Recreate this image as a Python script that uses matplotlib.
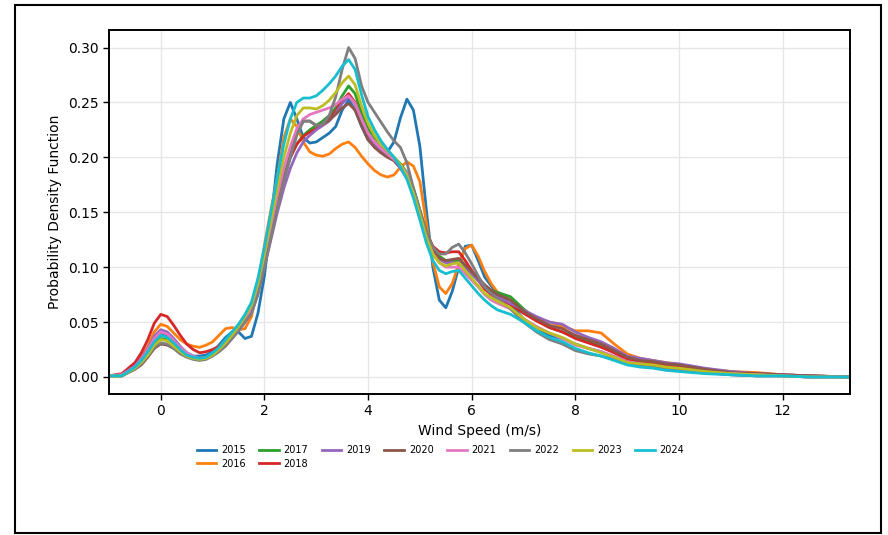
import matplotlib
matplotlib.use("Agg")
import matplotlib.pyplot as plt
from matplotlib.patches import Rectangle

wind_speed = [-1.0, -0.75,
              -0.5, -0.375, -0.25, -0.125, 0.0, 0.125, 0.25, 0.375,
              0.5, 0.625, 0.75, 0.875, 1.0, 1.125, 1.25, 1.375,
              1.5, 1.625, 1.75, 1.875, 2.0, 2.125, 2.25, 2.375,
              2.5, 2.625, 2.75, 2.875, 3.0, 3.125, 3.25, 3.375,
              3.5, 3.625, 3.75, 3.875, 4.0, 4.125, 4.25, 4.375,
              4.5, 4.625, 4.75, 4.875, 5.0, 5.125, 5.25, 5.375,
              5.5, 5.625, 5.75, 5.875, 6.0, 6.125, 6.25, 6.375,
              6.5, 6.75, 7.0, 7.25, 7.5, 7.75, 8.0, 8.25, 8.5, 8.75,
              9.0, 9.25, 9.5, 9.75, 10.0,
              10.5, 11.0, 11.5, 12.0, 12.5, 13.3]

years = ["2015", "2016", "2017", "2018", "2019",
         "2020", "2021", "2022", "2023", "2024"]

pdf_2015 = [0.001, 0.002,
            0.009, 0.016, 0.024, 0.034, 0.040, 0.038, 0.033, 0.027,
            0.022, 0.019, 0.019, 0.020, 0.023, 0.029, 0.036, 0.041,
            0.041, 0.035, 0.037, 0.058, 0.092, 0.142, 0.195, 0.235,
            0.250, 0.235, 0.218, 0.213, 0.214, 0.218, 0.222, 0.228,
            0.243, 0.252, 0.243, 0.228, 0.216, 0.210, 0.206, 0.205,
            0.214, 0.236, 0.253, 0.243, 0.210, 0.152, 0.100, 0.070,
            0.063, 0.078, 0.100, 0.119, 0.120, 0.106, 0.091, 0.083,
            0.076, 0.066, 0.053, 0.045, 0.038, 0.035, 0.030, 0.026, 0.023, 0.018,
            0.013, 0.011, 0.010, 0.008, 0.006,
            0.004, 0.002, 0.001, 0.001, 0.000, 0.000]
pdf_2016 = [0.001, 0.002,
            0.010, 0.018, 0.028, 0.041, 0.048, 0.046, 0.040, 0.034,
            0.030, 0.028, 0.027, 0.029, 0.032, 0.038, 0.044, 0.045,
            0.043, 0.044, 0.055, 0.085, 0.120, 0.152, 0.182, 0.218,
            0.235, 0.228, 0.214, 0.205, 0.202, 0.201, 0.203, 0.208,
            0.212, 0.214, 0.209, 0.201, 0.194, 0.188, 0.184, 0.182,
            0.184, 0.191, 0.196, 0.192, 0.178, 0.140, 0.105, 0.082,
            0.076, 0.085, 0.103, 0.117, 0.120, 0.110, 0.096, 0.085,
            0.077, 0.070, 0.060, 0.054, 0.050, 0.046, 0.042, 0.042, 0.040, 0.030,
            0.021, 0.017, 0.015, 0.013, 0.011,
            0.007, 0.005, 0.004, 0.002, 0.001, 0.000]
pdf_2017 = [0.001, 0.001,
            0.008, 0.013, 0.021, 0.030, 0.035, 0.034, 0.029, 0.024,
            0.020, 0.018, 0.017, 0.018, 0.021, 0.025, 0.030, 0.037,
            0.045, 0.053, 0.063, 0.082, 0.108, 0.135, 0.160, 0.182,
            0.200, 0.212, 0.220, 0.225, 0.229, 0.233, 0.238, 0.245,
            0.256, 0.265, 0.258, 0.240, 0.226, 0.218, 0.212, 0.206,
            0.200, 0.194, 0.186, 0.172, 0.152, 0.132, 0.118, 0.110,
            0.106, 0.106, 0.106, 0.100, 0.094, 0.088, 0.082, 0.079,
            0.077, 0.073, 0.062, 0.052, 0.045, 0.041, 0.036, 0.032, 0.029, 0.024,
            0.018, 0.015, 0.013, 0.011, 0.009,
            0.006, 0.004, 0.002, 0.001, 0.001, 0.000]
pdf_2018 = [0.001, 0.003,
            0.013, 0.022, 0.034, 0.049, 0.057, 0.055, 0.047, 0.038,
            0.030, 0.025, 0.022, 0.023, 0.025, 0.028, 0.033, 0.039,
            0.046, 0.053, 0.062, 0.082, 0.108, 0.135, 0.160, 0.182,
            0.200, 0.212, 0.219, 0.223, 0.226, 0.230, 0.235, 0.242,
            0.252, 0.258, 0.250, 0.234, 0.221, 0.214, 0.208, 0.203,
            0.198, 0.191, 0.182, 0.168, 0.150, 0.132, 0.119, 0.114,
            0.113, 0.114, 0.114, 0.106, 0.097, 0.088, 0.080, 0.075,
            0.071, 0.066, 0.058, 0.051, 0.045, 0.041, 0.035, 0.031, 0.027, 0.022,
            0.016, 0.014, 0.012, 0.010, 0.009,
            0.006, 0.004, 0.003, 0.002, 0.001, 0.000]
pdf_2019 = [0.001, 0.002,
            0.010, 0.017, 0.026, 0.037, 0.043, 0.041, 0.035, 0.028,
            0.022, 0.018, 0.016, 0.017, 0.020, 0.024, 0.029, 0.035,
            0.042, 0.050, 0.058, 0.076, 0.100, 0.125, 0.150, 0.172,
            0.190, 0.204, 0.214, 0.220, 0.225, 0.229, 0.233, 0.240,
            0.249, 0.255, 0.248, 0.232, 0.219, 0.211, 0.205, 0.201,
            0.197, 0.190, 0.181, 0.167, 0.150, 0.130, 0.115, 0.107,
            0.104, 0.104, 0.104, 0.099, 0.094, 0.088, 0.082, 0.077,
            0.073, 0.067, 0.061, 0.055, 0.050, 0.048, 0.041, 0.036, 0.032, 0.026,
            0.019, 0.017, 0.015, 0.013, 0.012,
            0.008, 0.005, 0.003, 0.002, 0.001, 0.000]
pdf_2020 = [0.001, 0.001,
            0.007, 0.011, 0.018, 0.026, 0.030, 0.029, 0.026, 0.022,
            0.019, 0.017, 0.016, 0.017, 0.020, 0.024, 0.029, 0.036,
            0.043, 0.051, 0.060, 0.078, 0.102, 0.128, 0.155, 0.180,
            0.203, 0.222, 0.233, 0.233, 0.229, 0.230, 0.234, 0.239,
            0.245, 0.249, 0.243, 0.229, 0.216, 0.209, 0.204, 0.200,
            0.197, 0.191, 0.183, 0.169, 0.150, 0.130, 0.116, 0.108,
            0.106, 0.107, 0.108, 0.102, 0.096, 0.090, 0.084, 0.079,
            0.075, 0.070, 0.060, 0.053, 0.047, 0.044, 0.038, 0.034, 0.030, 0.024,
            0.018, 0.015, 0.014, 0.012, 0.011,
            0.007, 0.004, 0.003, 0.002, 0.001, 0.000]
pdf_2021 = [0.001, 0.002,
            0.009, 0.016, 0.025, 0.035, 0.041, 0.039, 0.033, 0.027,
            0.022, 0.019, 0.017, 0.018, 0.021, 0.025, 0.030, 0.037,
            0.044, 0.052, 0.062, 0.082, 0.108, 0.137, 0.165, 0.190,
            0.210, 0.226, 0.235, 0.239, 0.241, 0.243, 0.245, 0.248,
            0.253, 0.256, 0.249, 0.235, 0.222, 0.214, 0.208, 0.203,
            0.198, 0.193, 0.185, 0.168, 0.148, 0.127, 0.112, 0.104,
            0.100, 0.100, 0.100, 0.094, 0.088, 0.082, 0.075, 0.070,
            0.067, 0.062, 0.053, 0.046, 0.040, 0.035, 0.029, 0.026, 0.023, 0.019,
            0.014, 0.012, 0.010, 0.008, 0.007,
            0.004, 0.003, 0.002, 0.001, 0.000, 0.000]
pdf_2022 = [0.001, 0.001,
            0.007, 0.012, 0.019, 0.027, 0.031, 0.030, 0.026, 0.021,
            0.018, 0.016, 0.015, 0.016, 0.019, 0.023, 0.028, 0.035,
            0.042, 0.050, 0.058, 0.075, 0.100, 0.127, 0.153, 0.178,
            0.200, 0.220, 0.233, 0.233, 0.229, 0.230, 0.238, 0.255,
            0.280, 0.300, 0.290, 0.265, 0.250, 0.241, 0.232, 0.223,
            0.215, 0.209, 0.195, 0.172, 0.152, 0.132, 0.118, 0.112,
            0.112, 0.118, 0.121, 0.113, 0.103, 0.092, 0.082, 0.076,
            0.071, 0.062, 0.050, 0.041, 0.034, 0.030, 0.024, 0.021, 0.019, 0.016,
            0.012, 0.010, 0.009, 0.007, 0.006,
            0.004, 0.002, 0.001, 0.001, 0.000, 0.000]
pdf_2023 = [0.001, 0.001,
            0.008, 0.013, 0.020, 0.029, 0.034, 0.033, 0.028, 0.023,
            0.019, 0.017, 0.016, 0.017, 0.020, 0.025, 0.031, 0.038,
            0.046, 0.055, 0.065, 0.085, 0.112, 0.142, 0.172, 0.200,
            0.222, 0.238, 0.245, 0.245, 0.244, 0.247, 0.252, 0.259,
            0.268, 0.274, 0.266, 0.247, 0.231, 0.220, 0.212, 0.206,
            0.200, 0.193, 0.183, 0.167, 0.148, 0.127, 0.112, 0.104,
            0.101, 0.103, 0.104, 0.097, 0.090, 0.083, 0.076, 0.072,
            0.069, 0.063, 0.053, 0.045, 0.040, 0.036, 0.030, 0.026, 0.022, 0.018,
            0.013, 0.012, 0.011, 0.009, 0.008,
            0.005, 0.003, 0.002, 0.001, 0.000, 0.000]
pdf_2024 = [0.001, 0.001,
            0.009, 0.015, 0.023, 0.032, 0.038, 0.036, 0.031, 0.025,
            0.020, 0.018, 0.017, 0.018, 0.022, 0.027, 0.034, 0.041,
            0.048, 0.057, 0.068, 0.090, 0.118, 0.150, 0.182, 0.212,
            0.235, 0.250, 0.254, 0.254, 0.256, 0.261, 0.267, 0.274,
            0.283, 0.289, 0.280, 0.257, 0.237, 0.225, 0.215, 0.207,
            0.200, 0.191, 0.180, 0.163, 0.143, 0.122, 0.106, 0.097,
            0.094, 0.096, 0.097, 0.090, 0.083, 0.076, 0.070, 0.065,
            0.061, 0.057, 0.050, 0.042, 0.036, 0.032, 0.026, 0.022, 0.019, 0.015,
            0.011, 0.009, 0.008, 0.006, 0.005,
            0.003, 0.002, 0.001, 0.001, 0.000, 0.000]

series = [pdf_2015, pdf_2016, pdf_2017, pdf_2018, pdf_2019,
          pdf_2020, pdf_2021, pdf_2022, pdf_2023, pdf_2024]

fig = plt.figure(figsize=(8.88, 5.35), dpi=100)
ax = fig.add_axes([0.1227, 0.2636, 0.8345, 0.6804])

for i, (year, vals) in enumerate(zip(years, series)):
    ax.plot(wind_speed, vals, color=f"C{i}", lw=2, label=year,
            solid_joinstyle="round")

ax.set_xlim(-1.0, 13.3)
ax.set_ylim(-0.0155, 0.316)
ax.set_xticks([0, 2, 4, 6, 8, 10, 12])
ax.set_yticks([0.0, 0.05, 0.10, 0.15, 0.20, 0.25, 0.30])
ax.set_yticklabels(["0.00", "0.05", "0.10", "0.15", "0.20", "0.25", "0.30"])
ax.grid(True, color="#e6e6e6", lw=1)
ax.set_axisbelow(True)
ax.tick_params(labelsize=10, length=4, width=1)
for s in ax.spines.values():
    s.set_linewidth(1.4)

ax.set_xlabel("Wind Speed (m/s)", fontsize=10, labelpad=4)
ax.set_ylabel("Probability Density Function", fontsize=10, labelpad=4)

fig.legend(loc="center", bbox_to_anchor=(0.496, 0.146), ncol=8, frameon=False,
           fontsize=7, handlelength=2.0, columnspacing=1.4, handletextpad=0.5,
           labelspacing=0.4)

# thin black frame around the whole picture
fig.patches.append(Rectangle((0.017, 0.004), 0.975, 0.987, transform=fig.transFigure,
                             fill=False, edgecolor="black", lw=1.5))

fig.savefig("out.png", dpi=100)
